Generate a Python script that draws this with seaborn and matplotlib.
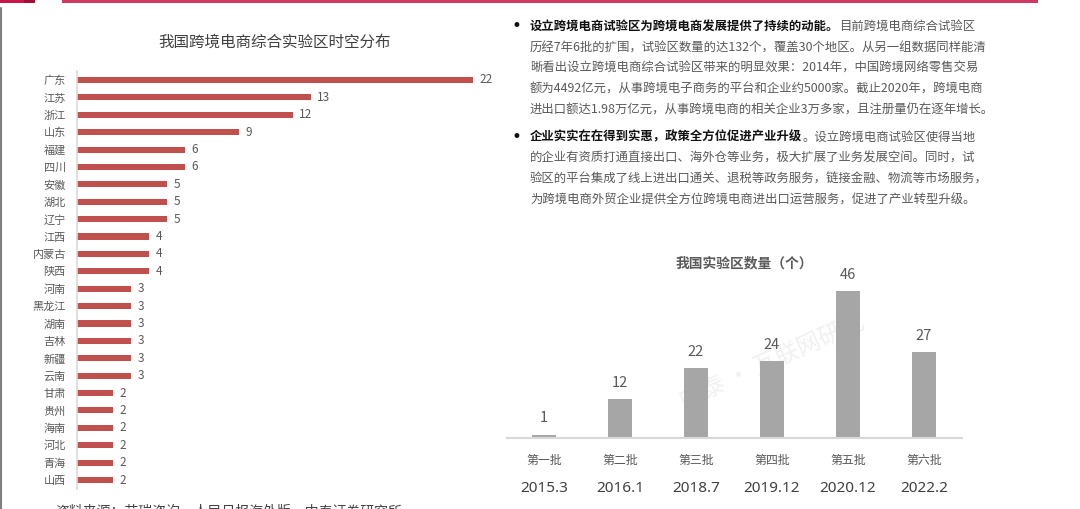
import matplotlib
matplotlib.use("Agg")
import matplotlib.pyplot as plt
import seaborn as sns
from matplotlib.patches import Rectangle
from matplotlib.lines import Line2D

# ---------------- data ----------------
provinces = ['广东', '江苏', '浙江', '山东', '福建', '四川', '安徽', '湖北', '辽宁', '江西',
             '内蒙古', '陕西', '河南', '黑龙江', '湖南', '吉林', '新疆', '云南', '甘肃', '贵州',
             '海南', '河北', '青海', '山西']
province_counts = [22, 13, 12, 9, 6, 6, 5, 5, 5, 4,
                   4, 4, 3, 3, 3, 3, 3, 3, 2, 2,
                   2, 2, 2, 2]

batches = ['第一批', '第二批', '第三批', '第四批', '第五批', '第六批']
batch_dates = ['2015.3', '2016.1', '2018.7', '2019.12', '2020.12', '2022.2']
batch_counts = [1, 12, 22, 24, 46, 27]

left_title = '我国跨境电商综合实验区时空分布'
right_title = '我国实验区数量（个）'
source_note = '资料来源：艾瑞咨询，人民日报海外版，中泰证券研究所'
watermark = '中泰 · 互联网研究'

para1_bold = '设立跨境电商试验区为跨境电商发展提供了持续的动能。'
para1_lines = ['目前跨境电商综合试验区',
               '历经7年6批的扩围，试验区数量的达132个，覆盖30个地区。从另一组数据同样能清',
               '晰看出设立跨境电商综合试验区带来的明显效果：2014年，中国跨境网络零售交易',
               '额为4492亿元，从事跨境电子商务的平台和企业约5000家。截止2020年，跨境电商',
               '进出口额达1.98万亿元，从事跨境电商的相关企业3万多家，且注册量仍在逐年增长。']
para2_bold = '企业实实在在得到实惠，政策全方位促进产业升级'
para2_lines = ['。设立跨境电商试验区使得当地',
               '的企业有资质打通直接出口、海外仓等业务，极大扩展了业务发展空间。同时，试',
               '验区的平台集成了线上进出口通关、退税等政务服务，链接金融、物流等市场服务，',
               '为跨境电商外贸企业提供全方位跨境电商进出口运营服务，促进了产业转型升级。']

# ---------------- style ----------------
sns.set_theme(style="white")
plt.rcParams['font.family'] = ['Noto Sans CJK SC', 'DejaVu Sans']
plt.rcParams['axes.unicode_minus'] = False

W, H = 1080, 509
fig = plt.figure(figsize=(W / 100, H / 100), dpi=100)
fig.patch.set_facecolor('white')


def fx(x):
    return x / W


def fy(y):
    return 1 - y / H


# background axes for decorations and free text
bg = fig.add_axes([0, 0, 1, 1])
bg.set_xlim(0, 1)
bg.set_ylim(0, 1)
bg.axis('off')

# decorations: top red bars, left grey border
bg.add_patch(Rectangle((fx(0), fy(3)), fx(24), 3 / H, color='#C8174A', lw=0))
bg.add_patch(Rectangle((fx(24), fy(3)), fx(11), 3 / H, color='#A30F34', lw=0))
bg.add_patch(Rectangle((fx(62), fy(3)), fx(1038 - 62), 2.5 / H, color='#D03A60', lw=0))
bg.add_line(Line2D([fx(0.8), fx(0.8)], [fy(8), 0], color='#808080', lw=1.5))

# watermark
bg.text(fx(772), fy(362), watermark, rotation=24, fontsize=17, color='#F1F1F1',
        ha='center', va='center', zorder=0)

# ---------------- left chart ----------------
axL = fig.add_axes([fx(77), fy(488.7), fx(500 - 77), (488.7 - 71.3) / H])
axL.set_facecolor('none')
sns.barplot(x=province_counts, y=provinces, orient='h', color='#C0504D',
            width=0.35, saturation=1, ax=axL, linewidth=0)
axL.set_xlim(0, (500 - 77) / 18)
axL.set_ylim(len(provinces) - 0.5, -0.5)
axL.set_xlabel('')
axL.set_ylabel('')
axL.set_xticks([])
for s in ['top', 'right', 'bottom']:
    axL.spines[s].set_visible(False)
axL.spines['left'].set_color('#D9D9D9')
axL.spines['left'].set_linewidth(1.2)
axL.tick_params(axis='y', length=0, pad=8, labelsize=8, labelcolor='#595959')
for c in axL.containers:
    axL.bar_label(c, padding=4.5, fontsize=8.5, color='#595959')

bg.text(fx(275), fy(42), left_title, fontsize=11.2, color='#404040',
        ha='center', va='center')

# ---------------- right chart ----------------
ppu = (437.7 - 291) / 46
axR = fig.add_axes([fx(507), fy(437.7), fx(962 - 507), (437.7 - 262) / H])
axR.set_facecolor('none')
sns.barplot(x=batches, y=batch_counts, color='#A6A6A6', width=0.32,
            saturation=1, ax=axR, linewidth=0)
axR.set_xlim(-(544 - 507) / 76, 5 + (962 - 924) / 76)
axR.set_ylim(0, (437.7 - 262) / ppu)
axR.set_xlabel('')
axR.set_ylabel('')
axR.set_yticks([])
axR.set_xticks([])
for s in ['top', 'right', 'left']:
    axR.spines[s].set_visible(False)
axR.spines['bottom'].set_color('#D9D9D9')
axR.spines['bottom'].set_linewidth(1.5)
for c in axR.containers:
    axR.bar_label(c, padding=6.5, fontsize=10.5, color='#595959')
for i, (b, d) in enumerate(zip(batches, batch_dates)):
    axR.annotate(b, xy=(i, 0), xycoords=('data', 'axes fraction'),
                 xytext=(0, -(460 - 437.7)), textcoords='offset pixels',
                 ha='center', va='center', fontsize=8.6, color='#595959',
                 annotation_clip=False)
    axR.annotate(d, xy=(i, 0), xycoords=('data', 'axes fraction'),
                 xytext=(0, -(488 - 437.7)), textcoords='offset pixels',
                 ha='center', va='center', fontsize=11, color='#404040',
                 family=['Noto Sans', 'DejaVu Sans'], fontstretch='condensed',
                 annotation_clip=False)

bg.text(fx(744), fy(263), right_title, fontsize=9.9, color='#595959',
        fontweight='bold', ha='center', va='center')

# ---------------- right text block ----------------
TX = 530
FS = 8.9
BOLD_C = '#111111'
NORM_C = '#595959'


def paragraph(y0, bold, lines):
    bg.text(fx(516), fy(y0), '•', fontsize=12, color='#111111', ha='center', va='center',
            family=['DejaVu Sans'])
    t1 = bg.text(fx(TX), fy(y0), bold, fontsize=FS, fontweight='bold', color=BOLD_C,
                 ha='left', va='center')
    bg.annotate(lines[0], xy=(1, 0.5), xycoords=t1, ha='left', va='center',
                fontsize=FS, color=NORM_C)
    for k, ln in enumerate(lines[1:], start=1):
        bg.text(fx(TX), fy(y0 + k * 21), ln, fontsize=FS, color=NORM_C,
                ha='left', va='center')


paragraph(26, para1_bold, para1_lines)
paragraph(137, para2_bold, para2_lines)

# source note (cut at bottom, as in the reference)
bg.text(fx(55), fy(504), source_note, fontsize=10, color='#404040',
        ha='left', va='top')

fig.savefig('out.png', dpi=100)
